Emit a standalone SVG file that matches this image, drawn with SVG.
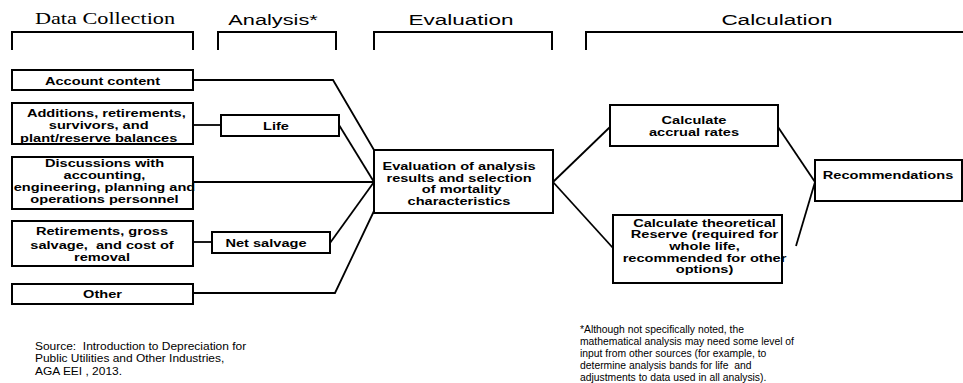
<svg xmlns="http://www.w3.org/2000/svg" width="963" height="383" viewBox="0 0 963 383">
<style>
.bg{fill:#fff}
.box{fill:#fff;stroke:#000;stroke-width:2}
.t{font-family:"Liberation Sans",Arial,sans-serif;font-weight:bold;font-size:11.5px;text-anchor:middle;fill:#000;white-space:pre}
.h{font-family:"Liberation Sans",Arial,sans-serif;font-size:15px;text-anchor:middle;fill:#000}
.hs{font-family:"Liberation Serif","Times New Roman",serif;font-size:16px;text-anchor:middle;fill:#000}
.note{font-family:"Liberation Sans",Arial,sans-serif;font-size:11.5px;fill:#000;white-space:pre}
.conn{fill:none;stroke:#000;stroke-width:1.8}
.br{fill:none;stroke:#000;stroke-width:2}
</style>
<rect class="bg" x="0" y="0" width="963" height="383"/>

<g id="headers">
  <text class="hs" transform="matrix(1.39 0 0 1 105 0)" x="0" y="24">Data Collection</text>
  <text class="h" transform="matrix(1.45 0 0 1 273 0)" x="0" y="25">Analysis*</text>
  <text class="h" transform="matrix(1.5 0 0 1 461 0)" x="0" y="25">Evaluation</text>
  <text class="h" transform="matrix(1.5 0 0 1 777 0)" x="0" y="25">Calculation</text>
  <path class="br" d="M12,50 V32 H193 V50"/>
  <path class="br" d="M218,50 V32 H336 V50"/>
  <path class="br" d="M374,50 V32 H552 V50"/>
  <path class="br" d="M586,50 V32 H963"/>
</g>

<g id="connectors">
  <polyline class="conn" points="193,80 333,80 374,150"/>
  <line class="conn" x1="193" y1="125" x2="221" y2="125"/>
  <line class="conn" x1="339" y1="125" x2="374" y2="182"/>
  <line class="conn" x1="193" y1="182" x2="374" y2="182"/>
  <line class="conn" x1="193" y1="242" x2="212" y2="242"/>
  <line class="conn" x1="330" y1="243" x2="374" y2="182"/>
  <polyline class="conn" points="193,293 335,293 374,211"/>
  <line class="conn" x1="553" y1="182" x2="610" y2="127"/>
  <line class="conn" x1="553" y1="182" x2="613" y2="248"/>
  <line class="conn" x1="778" y1="127" x2="815" y2="182"/>
  <line class="conn" x1="815" y1="182" x2="796" y2="246"/>
</g>

<g id="account-content">
  <rect class="box" x="12" y="70" width="181" height="20"/>
  <text class="t" transform="matrix(1.27 0 0 1 102.5 0)" x="0" y="85">Account content</text>
</g>

<g id="additions">
  <rect class="box" x="12" y="103" width="181" height="41"/>
  <text class="t" transform="matrix(1.27 0 0 1 102.5 0)"><tspan x="3" y="117">Additions, retirements,</tspan><tspan x="-3" y="129.5">survivors, and</tspan><tspan x="-3" y="142">plant/reserve balances</tspan></text>
</g>

<g id="life">
  <rect class="box" x="221" y="115" width="118" height="21"/>
  <text class="t" transform="matrix(1.27 0 0 1 276 0)" x="0" y="130">Life</text>
</g>

<g id="discussions">
  <rect class="box" x="12" y="157" width="181" height="52"/>
  <text class="t" transform="matrix(1.27 0 0 1 104.5 0)"><tspan x="0" y="167">Discussions with</tspan><tspan x="0" y="179">accounting,</tspan><tspan x="0" y="191">engineering, planning and</tspan><tspan x="0" y="203.5">operations personnel</tspan></text>
</g>

<g id="retirements">
  <rect class="box" x="12" y="221" width="181" height="45"/>
  <text class="t" transform="matrix(1.27 0 0 1 102 0)"><tspan x="0" y="235">Retirements, gross</tspan><tspan x="0" y="249">salvage,  and cost of</tspan><tspan x="0" y="261">removal</tspan></text>
</g>

<g id="net-salvage">
  <rect class="box" x="212" y="232" width="118" height="21"/>
  <text class="t" transform="matrix(1.27 0 0 1 266 0)" x="0" y="247">Net salvage</text>
</g>

<g id="other">
  <rect class="box" x="12" y="284" width="181" height="20"/>
  <text class="t" transform="matrix(1.27 0 0 1 102.5 0)" x="0" y="298.5">Other</text>
</g>

<g id="evaluation">
  <rect class="box" x="374" y="150" width="179" height="63"/>
  <text class="t" transform="matrix(1.27 0 0 1 459 0)"><tspan x="0" y="170">Evaluation of analysis</tspan><tspan x="0" y="181.7">results and selection</tspan><tspan x="2" y="193.3">of mortality</tspan><tspan x="0" y="205">characteristics</tspan></text>
</g>

<g id="accrual">
  <rect class="box" x="610" y="105" width="168" height="41"/>
  <text class="t" transform="matrix(1.27 0 0 1 694 0)"><tspan x="0" y="124">Calculate</tspan><tspan x="0" y="136">accrual rates</tspan></text>
</g>

<g id="theoretical">
  <rect class="box" x="613" y="215" width="169" height="68"/>
  <text class="t" transform="matrix(1.27 0 0 1 704.5 0)"><tspan x="0" y="226.7">Calculate theoretical</tspan><tspan x="0" y="238.3">Reserve (required for</tspan><tspan x="0" y="250">whole life,</tspan><tspan x="0" y="261.7">recommended for other</tspan><tspan x="0" y="273.3">options)</tspan></text>
</g>

<g id="recommendations">
  <rect class="box" x="815" y="160" width="147" height="41"/>
  <text class="t" transform="matrix(1.27 0 0 1 888 0)" x="0" y="179">Recommendations</text>
</g>

<g id="notes">
  <text class="note" transform="matrix(1.04 0 0 1 35 0)"><tspan x="0" y="350">Source:  Introduction to Depreciation for</tspan><tspan x="0" y="362.5">Public Utilities and Other Industries,</tspan><tspan x="0" y="375">AGA EEI , 2013.</tspan></text>
  <text class="note" transform="matrix(0.9 0 0 1 580 0)"><tspan x="0" y="333">*Although not specifically noted, the</tspan><tspan x="0" y="345">mathematical analysis may need some level of</tspan><tspan x="0" y="357">input from other sources (for example, to</tspan><tspan x="0" y="369">determine analysis bands for life  and</tspan><tspan x="0" y="381">adjustments to data used in all analysis).</tspan></text>
</g>
</svg>
